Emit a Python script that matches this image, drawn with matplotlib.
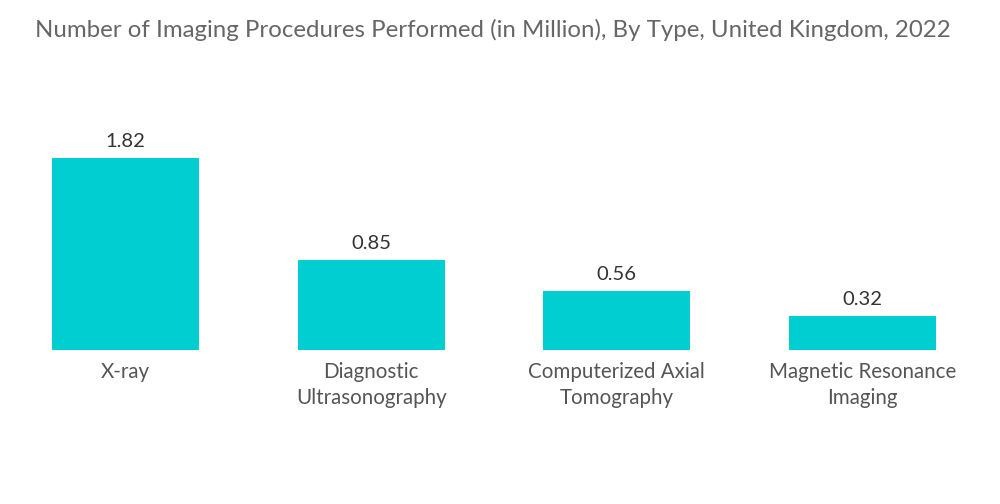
import matplotlib.pyplot as plt

categories = ["X-ray", "Diagnostic\nUltrasonography", "Computerized Axial\nTomography", "Magnetic Resonance\nImaging"]
values = [1.82, 0.85, 0.56, 0.32]

plt.rcParams['font.family'] = ['Lato', 'DejaVu Sans']

fig = plt.figure(figsize=(10, 5.04), dpi=100)
ax = fig.add_axes([0.003, 1 - 350 / 504, 0.982, 232 / 504])

x = range(len(categories))
bars = ax.bar(x, values, width=0.6, color="#00CED1")
ax.set_xlim(-0.5, 3.5)
ax.set_ylim(0, 2.2)

for b, v in zip(bars, values):
    ax.text(b.get_x() + b.get_width() / 2, v + 0.08, "{:.2f}".format(v),
            ha="center", va="bottom", fontsize=14.5, color="#333333")

ax.set_xticks(list(x))
ax.set_xticklabels(categories, fontsize=14.8, color="#555555", linespacing=1.32)
ax.tick_params(axis="x", length=0, pad=9)
ax.set_yticks([])
for s in ax.spines.values():
    s.set_visible(False)

fig.text(0.035, 0.94, "Number of Imaging Procedures Performed (in Million), By Type, United Kingdom, 2022",
         fontsize=17.3, color="#666666", ha="left", va="center")

fig.savefig("out.png", dpi=100)
